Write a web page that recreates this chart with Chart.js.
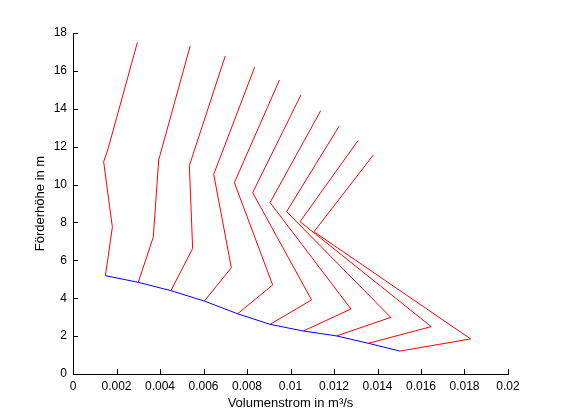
<!DOCTYPE html>
<html>
<head>
<meta charset="utf-8">
<script src="https://cdn.jsdelivr.net/npm/chart.js@4/dist/chart.umd.min.js"></script>
<style>
    html, body { margin: 0; padding: 0; background: #fff; }
    #wrap { width: 561px; height: 420px; }
</style>
</head>
<body>
<div id="wrap"><canvas id="pumpChart" width="561" height="420"></canvas></div>
<script>
// Kennlinien (rot): Volumenstrom in m³/s und Förderhöhe in m, je Kurve
const curveFlow = [
    [0.00149, 0.00181, 0.00141, 0.00162, 0.00296],
    [0.00300, 0.00369, 0.00394, 0.00539],
    [0.00450, 0.00550, 0.00535, 0.00700],
    [0.00604, 0.00728, 0.00647, 0.00835],
    [0.00757, 0.00918, 0.00742, 0.00949],
    [0.00906, 0.01097, 0.00826, 0.01048],
    [0.01059, 0.01278, 0.00906, 0.01139],
    [0.01212, 0.01461, 0.00982, 0.01224],
    [0.01358, 0.01647, 0.01044, 0.01309],
    [0.01503, 0.01828, 0.01108, 0.01381]
];
const curveHead = [
    [5.19, 7.75, 11.20, 11.92, 17.50],
    [4.84, 7.22, 11.30, 17.32],
    [4.40, 6.62, 11.00, 16.79],
    [3.85, 5.61, 10.54, 16.19],
    [3.18, 4.70, 10.10, 15.52],
    [2.62, 3.91, 9.57, 14.73],
    [2.27, 3.43, 9.05, 13.90],
    [2.01, 2.99, 8.57, 13.09],
    [1.62, 2.50, 8.04, 12.30],
    [1.21, 1.85, 7.51, 11.56]
];

// Betriebspunkte (blau)
const opFlow = [0.00149, 0.00300, 0.00450, 0.00604, 0.00757, 0.00906, 0.01059, 0.01212, 0.01358, 0.01503];
const opHead = [5.19, 4.84, 4.40, 3.85, 3.18, 2.62, 2.27, 2.01, 1.62, 1.21];

// Achsen
const xTicks = [0, 0.002, 0.004, 0.006, 0.008, 0.01, 0.012, 0.014, 0.016, 0.018, 0.02];
const xTickLabels = ['0', '0.002', '0.004', '0.006', '0.008', '0.01', '0.012', '0.014', '0.016', '0.018', '0.02'];
const yTicks = [0, 2, 4, 6, 8, 10, 12, 14, 16, 18];
const yTickLabels = ['0', '2', '4', '6', '8', '10', '12', '14', '16', '18'];

const FONT = "'Liberation Sans', Arial, Helvetica, sans-serif";

function toPoints(xs, ys) {
    return xs.map(function (x, i) { return { x: x, y: ys[i] }; });
}

const datasets = [{
    data: toPoints(opFlow, opHead),
    borderColor: '#0000ff',
    borderWidth: 1,
    pointRadius: 0,
    showLine: true,
    tension: 0
}];
curveFlow.forEach(function (q, i) {
    datasets.push({
        data: toPoints(q, curveHead[i]),
        borderColor: '#ff0000',
        borderWidth: 1,
        pointRadius: 0,
        showLine: true,
        tension: 0
    });
});

// MATLAB-artige Ticks nach innen
const inwardTicks = {
    id: 'inwardTicks',
    afterDraw: function (chart) {
        const ctx = chart.ctx;
        const xs = chart.scales.x;
        const ys = chart.scales.y;
        const area = chart.chartArea;
        ctx.save();
        ctx.strokeStyle = '#000';
        ctx.lineWidth = 1;
        ctx.beginPath();
        xs.ticks.forEach(function (t) {
            const px = Math.round(xs.getPixelForValue(t.value)) + 0.5;
            ctx.moveTo(px, area.bottom);
            ctx.lineTo(px, area.bottom - 5);
        });
        ys.ticks.forEach(function (t) {
            const py = Math.round(ys.getPixelForValue(t.value)) + 0.5;
            ctx.moveTo(area.left, py);
            ctx.lineTo(area.left + 5, py);
        });
        ctx.stroke();
        ctx.restore();
    }
};

new Chart(document.getElementById('pumpChart'), {
    type: 'scatter',
    data: { datasets: datasets },
    options: {
        responsive: false,
        animation: false,
        layout: { padding: { top: 33, right: 53, left: 0, bottom: 0 } },
        plugins: {
            legend: { display: false },
            tooltip: { enabled: false }
        },
        scales: {
            x: {
                type: 'linear',
                min: 0,
                max: 0.02,
                afterBuildTicks: function (s) { s.ticks = xTicks.map(function (v) { return { value: v }; }); },
                afterFit: function (s) { s.height = 46; },
                grid: { drawOnChartArea: false, drawTicks: false },
                border: { color: '#000', width: 1 },
                ticks: {
                    padding: 5,
                    maxRotation: 0,
                    autoSkip: false,
                    color: '#000',
                    font: { family: FONT, size: 12 },
                    callback: function (v, i) { return xTickLabels[i]; }
                },
                title: {
                    display: true,
                    text: 'Volumenstrom in m³/s',
                    color: '#000',
                    font: { family: FONT, size: 13 },
                    padding: { top: 0, bottom: 9 }
                }
            },
            y: {
                type: 'linear',
                min: 0,
                max: 18,
                afterBuildTicks: function (s) { s.ticks = yTicks.map(function (v) { return { value: v }; }); },
                afterFit: function (s) { s.width = 73; },
                grid: { drawOnChartArea: false, drawTicks: false },
                border: { color: '#000', width: 1 },
                ticks: {
                    padding: 6,
                    autoSkip: false,
                    color: '#000',
                    font: { family: FONT, size: 12 },
                    callback: function (v, i) { return yTickLabels[i]; }
                },
                title: {
                    display: true,
                    text: 'Förderhöhe in m',
                    color: '#000',
                    font: { family: FONT, size: 13 },
                    padding: { top: 33, bottom: 0 }
                }
            }
        }
    },
    plugins: [inwardTicks]
});
</script>
</body>
</html>
